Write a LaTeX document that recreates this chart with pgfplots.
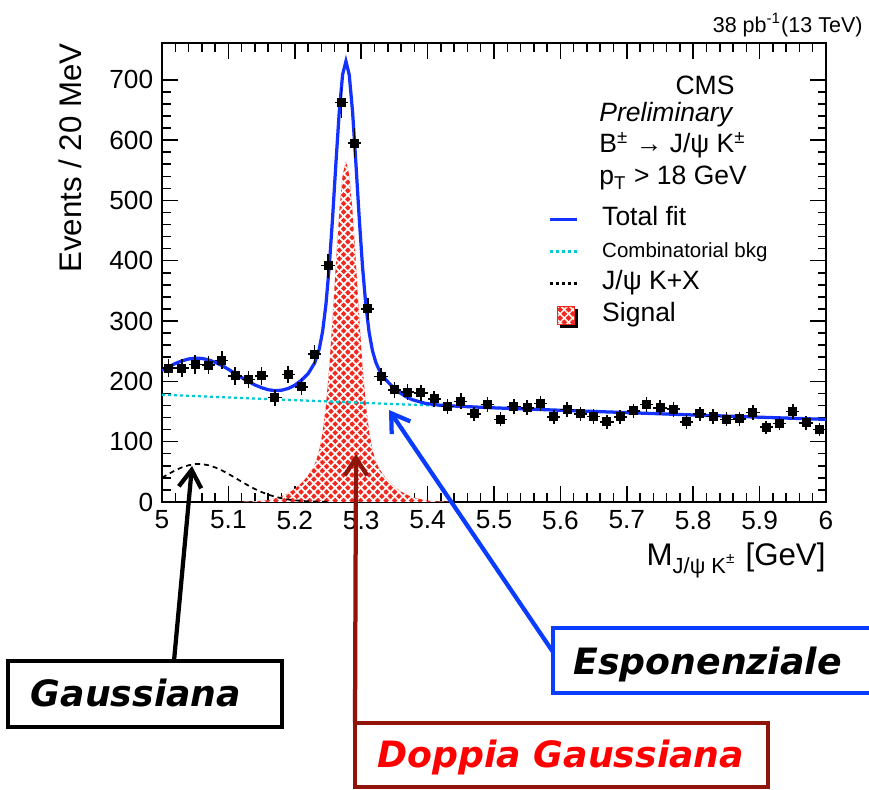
\documentclass[border=0pt]{standalone}
\usepackage{fontspec}
\setmainfont{Liberation Sans}
\newfontfamily\boxfont{DejaVu Sans}
\usepackage{pgfplots}
\pgfplotsset{compat=1.18}
\usepackage{pgfplotstable}
\usetikzlibrary{arrows.meta,patterns.meta}

\definecolor{fitblue}{RGB}{20,50,255}
\definecolor{bkgcyan}{RGB}{0,200,210}
\definecolor{sigred}{RGB}{240,40,30}
\definecolor{arrowred}{RGB}{145,20,10}
\definecolor{annblue}{RGB}{10,60,255}

% data: bin centre, events, stat. error
\pgfplotstableread{
x y ey
5.01 222 14.9
5.03 222 14.9
5.05 228 15.1
5.07 227 15.1
5.09 235 15.3
5.11 209 14.5
5.13 203 14.2
5.15 209 14.5
5.17 173 13.2
5.19 211 14.5
5.21 191 13.8
5.23 245 15.7
5.25 392 19.8
5.27 662 25.7
5.29 595 24.4
5.31 320 17.9
5.33 208 14.4
5.35 186 13.6
5.37 182 13.5
5.39 181 13.5
5.41 171 13.1
5.43 158 12.6
5.45 167 12.9
5.47 146 12.1
5.49 162 12.7
5.51 137 11.7
5.53 158 12.6
5.55 156 12.5
5.57 163 12.8
5.59 141 11.9
5.61 153 12.4
5.63 146 12.1
5.65 142 11.9
5.67 133 11.5
5.69 141 11.9
5.71 151 12.3
5.73 162 12.7
5.75 156 12.5
5.77 154 12.4
5.79 133 11.5
5.81 146 12.1
5.83 142 11.9
5.85 137 11.7
5.87 138 11.7
5.89 148 12.2
5.91 124 11.1
5.93 130 11.4
5.95 150 12.2
5.97 131 11.4
5.99 120 11.0
}\datatable

\pgfplotstableread{
x y
5.117 0.2
5.137 0.8
5.157 2.7
5.177 8.0
5.187 12.9
5.197 19.6
5.207 28.3
5.217 39.6
5.227 55.3
5.232 67.8
5.237 86.7
5.242 116.4
5.247 161.6
5.252 225.3
5.257 306.4
5.262 396.8
5.267 481.6
5.272 542.7
5.277 565.0
5.282 542.7
5.287 481.6
5.292 396.8
5.297 306.4
5.302 225.3
5.307 161.6
5.312 116.4
5.317 86.7
5.322 67.8
5.327 55.3
5.337 39.6
5.347 28.3
5.357 19.6
5.367 12.9
5.377 8.0
5.397 2.7
5.417 0.8
5.437 0.2
}\signaltable

\pgfplotstableread{
x y
5.00 178.0
5.10 173.4
5.20 168.9
5.30 164.5
5.40 160.3
5.50 156.1
5.60 152.1
5.70 148.2
5.80 144.3
5.90 140.6
6.00 137.0
}\bkgtable

\pgfplotstableread{
x y
5.00 40.2
5.01 46.6
5.02 52.5
5.03 57.4
5.04 60.9
5.05 62.8
5.06 62.8
5.07 60.9
5.08 57.4
5.09 52.5
5.10 46.6
5.11 40.2
5.12 33.6
5.13 27.3
5.14 21.5
5.15 16.5
5.16 12.2
5.17 8.8
5.18 6.2
5.19 4.2
5.20 2.8
5.21 1.8
5.22 1.1
5.23 0.7
5.24 0.4
5.25 0.2
}\gausstable

\pgfplotstableread{
x y
5.00 218.2
5.01 224.1
5.02 229.6
5.03 234.0
5.04 237.1
5.05 238.5
5.06 238.0
5.07 235.7
5.08 231.7
5.09 226.4
5.10 220.0
5.11 213.2
5.12 206.3
5.13 199.9
5.14 194.0
5.15 189.5
5.16 186.1
5.17 184.6
5.18 185.3
5.19 188.2
5.20 193.7
5.21 201.8
5.22 212.7
5.23 230.6
5.237 254.4
5.242 283.8
5.247 328.7
5.252 392.1
5.257 472.9
5.262 563.1
5.267 647.7
5.272 708.6
5.277 730.7
5.282 708.2
5.287 646.9
5.292 561.9
5.297 471.3
5.302 390.0
5.307 326.0
5.312 280.6
5.317 250.7
5.322 231.6
5.327 218.9
5.337 202.8
5.347 191.1
5.357 182.0
5.367 174.9
5.377 169.6
5.397 163.4
5.417 160.7
5.437 159.2
5.50 156.1
5.60 152.1
5.70 148.2
5.80 144.3
5.90 140.6
6.00 137.0
}\totaltable

\begin{document}
\begin{tikzpicture}
\begin{axis}[
  at={(0pt,0pt)}, anchor=south west,
  scale only axis, width=265.6pt, height=183.6pt,
  xmin=5, xmax=6, ymin=0, ymax=761,
  xtick={5,5.1,5.2,5.3,5.4,5.5,5.6,5.7,5.8,5.9,6},
  xticklabels={5,5.1,5.2,5.3,5.4,5.5,5.6,5.7,5.8,5.9,6},
  ytick={0,100,200,300,400,500,600,700},
  minor x tick num=4, minor y tick num=4,
  tick align=inside,
  major tick length=6.5pt, minor tick length=3.4pt,
  every tick/.style={black, line width=0.6pt},
  axis line style={line width=0.8pt},
  tick label style={font=\fontsize{10.5}{12}\selectfont},
  /pgf/number format/assume math mode=true,
  xlabel={M\textsubscript{J/ψ K\textsuperscript{±}} [GeV]},
  ylabel={Events / 20 MeV},
  xlabel style={at={(axis description cs:1,-0.1373)}, anchor=base east, inner sep=0pt, font=\fontsize{12.5}{14}\selectfont},
  ylabel style={at={(axis description cs:-0.1205,1)}, anchor=base east, inner sep=0pt, font=\fontsize{12.5}{14}\selectfont},
  legend style={at={(axis description cs:0.5813,0.6503)}, anchor=north west,
    draw=none, fill=none, inner sep=0pt, outer sep=0pt,
    row sep=0pt, column sep=9.6pt,
    font=\fontsize{10.6}{12}\selectfont,
    nodes={inner sep=0pt, text height=8.6pt, text depth=4.2pt}},
  legend cell align=left,
  legend image code/.code={\draw[#1] (0pt,0pt) -- (10.8pt,0pt);},
]
% signal (double Gaussian), filled and hatched
\addplot[draw=none, fill=sigred, forget plot,
  postaction={pattern color=white, pattern={Lines[angle=45,distance=2.4pt,line width=0.7pt]}},
  postaction={pattern color=white, pattern={Lines[angle=-45,distance=2.4pt,line width=0.7pt]}}]
  table[x=x,y=y]{\signaltable} \closedcycle;
% combinatorial background (exponential)
\addplot[bkgcyan, line width=0.9pt, dash pattern=on 1.2pt off 1.2pt, forget plot] table[x=x,y=y]{\bkgtable};
% J/psi K + X (Gaussian)
\addplot[black, line width=0.7pt, dash pattern=on 2pt off 1.6pt, forget plot] table[x=x,y=y]{\gausstable};
% total fit
\addplot[fitblue, line width=1.3pt, forget plot] table[x=x,y=y]{\totaltable};
% data
\addplot[black, only marks, mark=square*, mark size=1.6pt, forget plot,
  error bars/.cd, x dir=both, x fixed=0.01, y dir=both, y explicit,
  error bar style={line width=0.6pt}, error mark=none]
  table[x=x,y=y,y error=ey]{\datatable};

\addlegendimage{fitblue, line width=1.3pt}
\addlegendentry{Total fit}
\addlegendimage{bkgcyan, line width=0.9pt, dash pattern=on 1.2pt off 1.2pt}
\addlegendentry{\fontsize{8.2}{10}\selectfont Combinatorial bkg}
\addlegendimage{black, line width=0.9pt, dash pattern=on 1.2pt off 1.2pt}
\addlegendentry{J/ψ K+X}
\addlegendimage{legend image code/.code={\fill[black] (4.2pt,-4.6pt) rectangle (11.2pt,2.4pt); \fill[sigred, postaction={pattern color=white, pattern={Lines[angle=45,distance=2.4pt,line width=0.6pt]}}, postaction={pattern color=white, pattern={Lines[angle=-45,distance=2.4pt,line width=0.6pt]}}] (3.0pt,-3.4pt) rectangle (10pt,3.6pt);}}
\addlegendentry{Signal}
\end{axis}

% annotations in pixel coordinates of the reference
\begin{scope}[x=0.4pt, y=-0.4pt, xshift=-64.8pt, yshift=200.8pt]
  \node[anchor=east, inner sep=0pt, font=\fontsize{8.6}{10}\selectfont] at (863,25) {38 pb\textsuperscript{-1}(13 TeV)};
  \node[anchor=base east, inner sep=0pt, font=\fontsize{10.6}{12}\selectfont] at (735,95) {CMS};
  \node[anchor=base west, inner sep=0pt, font=\fontsize{10.6}{12}\selectfont\itshape] at (599,122) {Preliminary};
  \node[anchor=base west, inner sep=0pt, font=\fontsize{10.6}{12}\selectfont] at (599,153) {B\textsuperscript{±} → J/ψ K\textsuperscript{±}};
  \node[anchor=base west, inner sep=0pt, font=\fontsize{10.6}{12}\selectfont] at (599,185) {p\textsubscript{T} > 18 GeV};

  % Gaussiana
  \draw[line width=1.3pt, black] (8,661) rectangle (282,727);
  \node[anchor=base, inner sep=0pt, font=\fontsize{14.5}{16}\boxfont\bfseries\itshape] at (136,707) {Gaussiana};
  \draw[line width=1.7pt, black, -{Straight Barb[length=7pt,width=9pt]}] (174,661) -- (192,466);

  % Esponenziale
  \draw[line width=1.3pt, annblue] (553,628) rectangle (900,693);
  \node[anchor=base west, inner sep=0pt, font=\fontsize{14.5}{16}\boxfont\bfseries\itshape] at (573,675) {Esponenziale};
  \draw[line width=1.7pt, annblue, -{Straight Barb[length=7pt,width=9pt]}] (553,652) -- (389,410);

  % Doppia Gaussiana
  \draw[line width=1.3pt, arrowred] (355,723) rectangle (768,787);
  \node[anchor=base west, inner sep=0pt, text=red, font=\fontsize{14.5}{16}\boxfont\bfseries\itshape] at (377,768) {Doppia Gaussiana};
  \draw[line width=1.7pt, arrowred, -{Straight Barb[length=7pt,width=9pt]}] (355,723) -- (356,454);
\end{scope}

\pgfresetboundingbox
\path[use as bounding box] (-64.8pt,-114.8pt) rectangle (282.8pt,200.8pt);
\end{tikzpicture}
\end{document}
